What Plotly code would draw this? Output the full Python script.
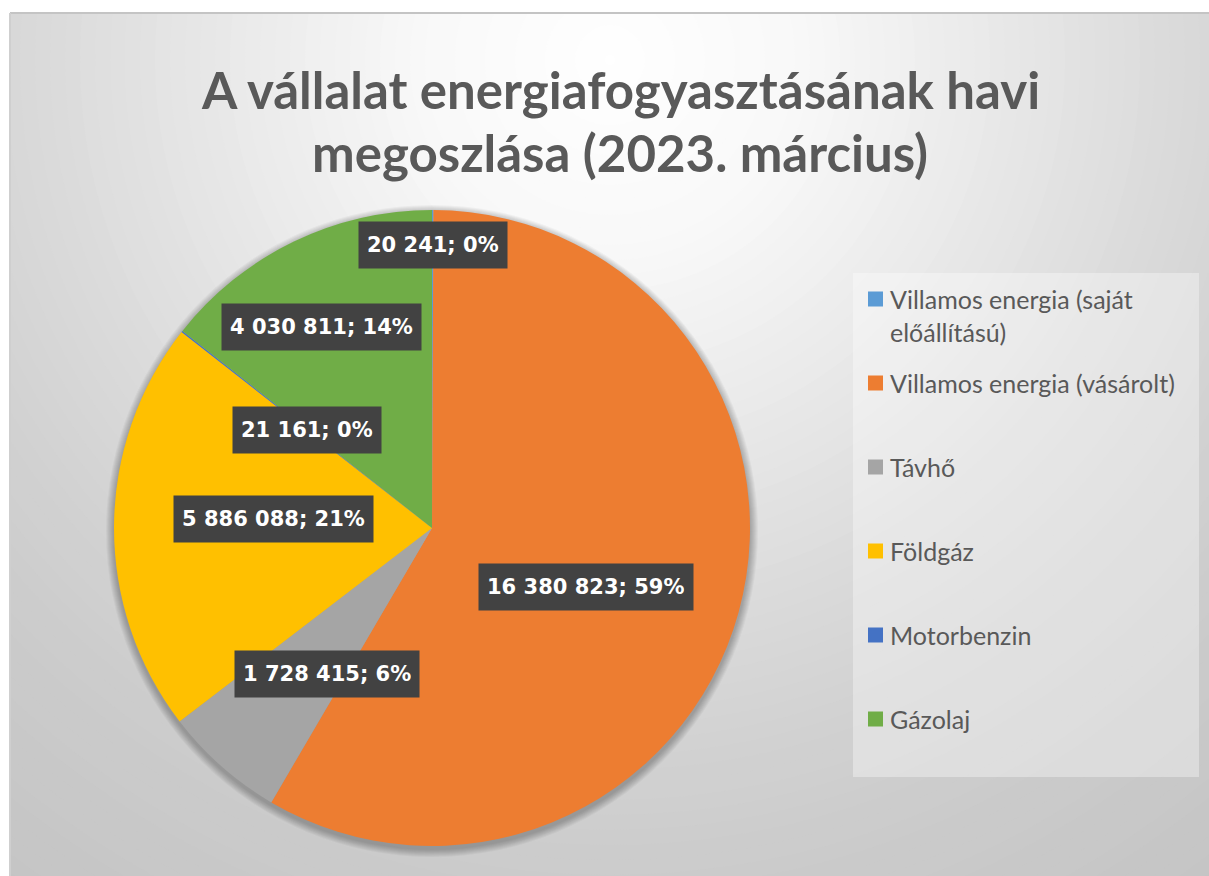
import math
import textwrap
import plotly.graph_objects as go

# ---------------- data ----------------
labels = [
    "Villamos energia (saját előállítású)",
    "Villamos energia (vásárolt)",
    "Távhő",
    "Földgáz",
    "Motorbenzin",
    "Gázolaj",
]
values = [20241, 16380823, 1728415, 5886088, 21161, 4030811]
colors = ["#5B9BD5", "#ED7D31", "#A5A5A5", "#FFC000", "#4472C4", "#70AD47"]
title_lines = ["A vállalat energiafogyasztásának havi", "megoszlása (2023. március)"]

# ---------------- layout constants ----------------
W, H = 1209, 876
PIE_CX, PIE_CY, PIE_R = 432, 528, 318
label_radius = [0.89, 0.52, 0.566, 0.5, 0.5, 0.72]   # label distance (fraction of radius)
label_shift = [0, 5.6, -5.6, 3, 0, -3]                # degrees
TEXT = "#595959"


def px(x):
    return x / W


def py(y):
    return 1 - y / H


# percentages that sum to 100 (largest remainder, as the spreadsheet does)
total = sum(values)
raw = [100 * v / total for v in values]
floors = [math.floor(r) for r in raw]
rest = 100 - sum(floors)
order = sorted(range(len(raw)), key=lambda i: raw[i] - floors[i], reverse=True)
pcts = floors[:]
for i in order[:rest]:
    pcts[i] += 1


def fmt(v):
    return f"{v:,}".replace(",", " ")


fig = go.Figure()
fig.add_trace(go.Pie(
    labels=labels, values=values, sort=False, direction="clockwise", rotation=0,
    marker=dict(colors=colors, line=dict(width=0)),
    textinfo="none", showlegend=False,
    domain=dict(x=[px(PIE_CX - PIE_R), px(PIE_CX + PIE_R)],
                y=[py(PIE_CY + PIE_R), py(PIE_CY - PIE_R)]),
))

shapes = []
# radial gradient background
gc_x, gc_y = 610, 60
stops_d = [0, 200, 400, 600, 800, 1100]
stops_g = [255, 248, 232, 216, 204, 194]


def gray_at(d):
    for k in range(len(stops_d) - 1):
        if d <= stops_d[k + 1]:
            t = (d - stops_d[k]) / (stops_d[k + 1] - stops_d[k])
            return stops_g[k] + t * (stops_g[k + 1] - stops_g[k])
    return stops_g[-1]


shapes.append(dict(type="rect", xref="paper", yref="paper", x0=0, x1=1, y0=0, y1=1,
                   fillcolor=f"rgb({stops_g[-1]},{stops_g[-1]},{stops_g[-1]})", line=dict(width=0), layer="below"))
for rad in range(1100, 0, -15):
    g = round(gray_at(rad))
    shapes.append(dict(type="circle", xref="paper", yref="paper",
                       x0=px(gc_x - rad), x1=px(gc_x + rad), y0=py(gc_y + rad), y1=py(gc_y - rad),
                       fillcolor=f"rgb({g},{g},{g})", line=dict(width=0), layer="below"))
# white margin around the chart panel + panel edge
shapes.append(dict(type="rect", xref="paper", yref="paper", x0=0, x1=px(10), y0=0, y1=1,
                   fillcolor="white", line=dict(width=0), layer="below"))
shapes.append(dict(type="rect", xref="paper", yref="paper", x0=0, x1=1, y0=py(13), y1=1,
                   fillcolor="white", line=dict(width=0), layer="below"))
shapes.append(dict(type="line", xref="paper", yref="paper", x0=px(10), x1=1, y0=py(13), y1=py(13),
                   line=dict(color="#c4c4c4", width=2), layer="below"))
shapes.append(dict(type="line", xref="paper", yref="paper", x0=px(10), x1=px(10), y0=0, y1=py(13),
                   line=dict(color="#cfcfcf", width=2), layer="below"))
# soft pie shadow
for k in range(8, 0, -1):
    rr = PIE_R + k
    shapes.append(dict(type="circle", xref="paper", yref="paper",
                       x0=px(PIE_CX - rr), x1=px(PIE_CX + rr), y0=py(PIE_CY + 3 + rr), y1=py(PIE_CY + 3 - rr),
                       fillcolor="rgba(0,0,0,0.035)", line=dict(width=0), layer="below"))

# legend box
LEG_X0, LEG_X1, LEG_Y0, LEG_Y1 = 853, 1199, 273, 777
shapes.append(dict(type="rect", xref="paper", yref="paper", x0=px(LEG_X0), x1=px(LEG_X1),
                   y0=py(LEG_Y1), y1=py(LEG_Y0), fillcolor="rgba(255,255,255,0.35)",
                   line=dict(width=0), layer="below"))

annotations = []
# title
for i, line in enumerate(title_lines):
    annotations.append(dict(text=f"<b>{line}</b>", xref="paper", yref="paper", x=px(620), y=py(89 + 63 * i),
                            xanchor="center", yanchor="middle", showarrow=False,
                            font=dict(family="Lato", size=51, color=TEXT)))

# data labels
cum = 0
for i, v in enumerate(values):
    mid = (cum + v / 2) / total * 360 + label_shift[i]
    cum += v
    a = math.radians(mid)
    lx = PIE_CX + label_radius[i] * PIE_R * math.sin(a)
    ly = PIE_CY - label_radius[i] * PIE_R * math.cos(a)
    txt = f"{fmt(v)}; {pcts[i]}%"
    annotations.append(dict(text=txt, xref="paper", yref="paper",
                            x=px(lx), y=py(ly), showarrow=False, xanchor="center", yanchor="middle",
                            bgcolor="#424242", borderpad=8, height=30,
                            font=dict(family="DejaVu Sans", size=21, color="white", weight="bold")))

# custom legend
ITEM_Y0, ITEM_STEP, LINE_STEP = 299, 84, 33
for i, lab in enumerate(labels):
    yc = ITEM_Y0 + i * ITEM_STEP
    shapes.append(dict(type="rect", xref="paper", yref="paper", x0=px(868), x1=px(883),
                       y0=py(yc + 7.5), y1=py(yc - 7.5), fillcolor=colors[i], line=dict(width=0)))
    for j, part in enumerate(textwrap.wrap(lab, 27)):
        annotations.append(dict(text=part, xref="paper", yref="paper", x=px(888), y=py(yc + j * LINE_STEP),
                                xanchor="left", yanchor="middle", showarrow=False,
                                font=dict(family="Lato", size=25, color=TEXT)))

fig.update_layout(
    width=W, height=H, margin=dict(l=0, r=0, t=0, b=0, pad=0),
    paper_bgcolor="white", plot_bgcolor="white",
    shapes=shapes, annotations=annotations, showlegend=False,
)
fig.write_html("out.html", config={"displayModeBar": False},
               post_script="document.body.style.margin='0px';document.body.style.overflow='hidden';")
